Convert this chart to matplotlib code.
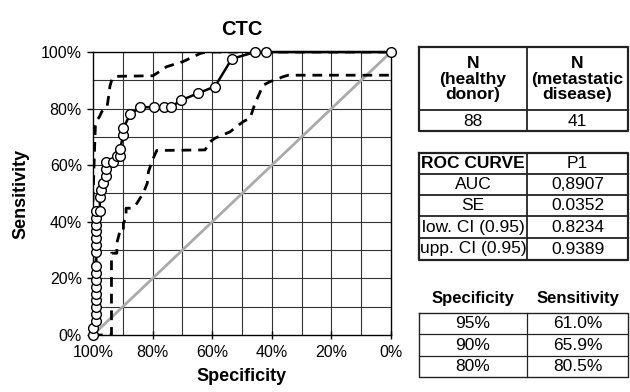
import matplotlib
matplotlib.use("Agg")
from matplotlib import pyplot as plt
from matplotlib.ticker import FuncFormatter

plt.rcParams['font.family'] = ['Liberation Sans', 'DejaVu Sans']

# ROC curve (specificity %, sensitivity %)
roc_spec = [100, 100, 98.9, 98.9, 98.9, 98.9, 98.9, 98.9, 98.9, 98.9, 98.9,
            98.9, 98.9, 98.9, 98.9, 98.9, 98.9, 98.9, 97.7, 97.7, 97.4, 96.6,
            95.5, 95.5, 95.5, 93.2, 92.0, 90.9, 90.9, 89.8, 89.8, 87.5, 84.1,
            79.5, 76.1, 73.9, 70.5, 64.8, 59.1, 53.4, 45.5, 42.0, 0]
roc_sens = [0, 2.4, 4.9, 7.3, 9.8, 12.2, 14.6, 17.1, 19.5, 22.0, 24.4,
            29.3, 31.7, 34.1, 36.6, 39.0, 41.5, 43.9, 43.9, 48.8, 51.2, 53.7,
            56.1, 58.5, 61.0, 61.0, 63.4, 63.4, 65.9, 70.7, 73.2, 78.0, 80.5,
            80.5, 80.5, 80.5, 82.9, 85.4, 87.8, 97.6, 100, 100, 100]

# upper confidence bound
up_spec = [100, 100, 99.5, 99.2, 98.6, 97.9, 97.0, 96.0, 95.3, 94.8, 94.3,
           93.6, 92.6, 79.9, 77.5, 75.3, 69.8, 64.0, 61.8, 0]
up_sens = [0, 48, 65, 74, 76, 77, 79, 80, 80.5, 84, 88,
           90.5, 91.4, 91.6, 93.2, 94.8, 96.6, 99.5, 100, 100]

# lower confidence bound
low_spec = [100, 93.8, 93.8, 92.0, 92.0, 91.0, 89.8, 89.8, 88.9, 88.9, 86.8,
            85.3, 83.1, 81.8, 81.4, 79.8, 78.6, 62.4, 60.7, 59.1, 54.0, 49.6,
            47.3, 45.6, 42.9, 40.6, 36.1, 34.5, 0]
low_sens = [0, 0, 28.9, 28.9, 32.5, 36.5, 36.5, 39.5, 41.5, 44.8, 44.8,
            46.5, 50.2, 53.6, 57.7, 62.4, 65.2, 65.4, 68.3, 69.5, 71.8, 75.4,
            76.6, 81.9, 88.3, 89.5, 91.3, 91.8, 91.8]

# tables on the right
n_headers = ["N\n(healthy\ndonor)", "N\n(metastatic\ndisease)"]
n_values = ["88", "41"]
roc_rows = [["ROC CURVE", "P1"], ["AUC", "0,8907"], ["SE", "0.0352"],
            ["low. CI (0.95)", "0.8234"], ["upp. CI (0.95)", "0.9389"]]
cut_headers = ["Specificity", "Sensitivity"]
cut_rows = [["95%", "61.0%"], ["90%", "65.9%"], ["80%", "80.5%"]]

fig = plt.figure(figsize=(6.3, 3.92), dpi=100)
ax = fig.add_axes([93 / 630, 1 - 335 / 392, 298 / 630, 283 / 392])

# grid every 10%
for v in range(10, 100, 10):
    ax.axvline(v, color='#333333', lw=0.8, zorder=1)
    ax.axhline(v, color='#333333', lw=0.8, zorder=1)

ax.plot([100, 0], [0, 100], color='#aaaaaa', lw=2, zorder=2)
ax.plot(low_spec, low_sens, color='black', lw=2, ls=(0, (3.5, 2.5)), zorder=3)
ax.plot(up_spec, up_sens, color='black', lw=2, ls=(0, (3.5, 2.5)), zorder=3)
ax.plot(roc_spec, roc_sens, color='black', lw=1.8, marker='o', ms=7,
        mfc='white', mec='black', mew=1, zorder=4, clip_on=False)

ax.set_xlim(100, 0)
ax.set_ylim(0, 100)
ax.set_xticks(range(0, 101, 20))
ax.set_yticks(range(0, 101, 20))
pct = FuncFormatter(lambda v, p: f"{v:.0f}%")
ax.xaxis.set_major_formatter(pct)
ax.yaxis.set_major_formatter(pct)
ax.tick_params(axis='x', direction='inout', length=6, width=1, labelsize=11.5, pad=4)
ax.tick_params(axis='y', direction='out', length=4, width=1, labelsize=11.5, pad=4)
for s in ax.spines.values():
    s.set_color('black')
    s.set_linewidth(1)

ax.set_xlabel("Specificity", fontsize=13, fontweight='bold', labelpad=6)
ax.set_ylabel("Sensitivity", fontsize=13, fontweight='bold', labelpad=8)
ax.set_title("CTC", fontsize=14.5, fontweight='bold', pad=12)

# overlay axes in pixel coords for the tables
tx = fig.add_axes([0, 0, 1, 1])
tx.set_xlim(0, 630)
tx.set_ylim(392, 0)
tx.axis('off')

L, M, R = 419, 527, 628
cx = [(L + M) / 2, (M + R) / 2]


def box(top, rows, lw_out, lw_in):
    tx.plot([L, R, R, L, L], [top, top, rows[-1], rows[-1], top], color='#222222', lw=lw_out)
    tx.plot([M, M], [top, rows[-1]], color='#222222', lw=lw_in)
    for r in rows[:-1]:
        tx.plot([L, R], [r, r], color='#222222', lw=lw_in)


# table 1
box(47, [110, 131], 1.6, 1.3)
for i in range(2):
    tx.text(cx[i], 79, n_headers[i], ha='center', va='center', fontsize=12.5,
            fontweight='bold', linespacing=1.05)
    tx.text(cx[i], 121, n_values[i], ha='center', va='center', fontsize=12.5)

# table 2
rb = [174, 195, 216, 238, 260]
box(153, rb, 1.6, 1.3)
prev = 153
for j, row in enumerate(roc_rows):
    yc = (prev + rb[j]) / 2
    tx.text(cx[0], yc, row[0], ha='center', va='center', fontsize=12.5,
            fontweight='bold' if j == 0 else 'normal')
    tx.text(cx[1], yc, row[1], ha='center', va='center', fontsize=12.5)
    prev = rb[j]

# table 3
for i in range(2):
    tx.text(cx[i], 298, cut_headers[i], ha='center', va='center', fontsize=12,
            fontweight='bold')
rb3 = [334, 356, 377]
box(313, rb3, 1.0, 0.9)
prev = 313
for j, row in enumerate(cut_rows):
    yc = (prev + rb3[j]) / 2
    tx.text(cx[0], yc, row[0], ha='center', va='center', fontsize=12.5)
    tx.text(cx[1], yc, row[1], ha='center', va='center', fontsize=12.5)
    prev = rb3[j]

fig.savefig("out.png", dpi=100)
